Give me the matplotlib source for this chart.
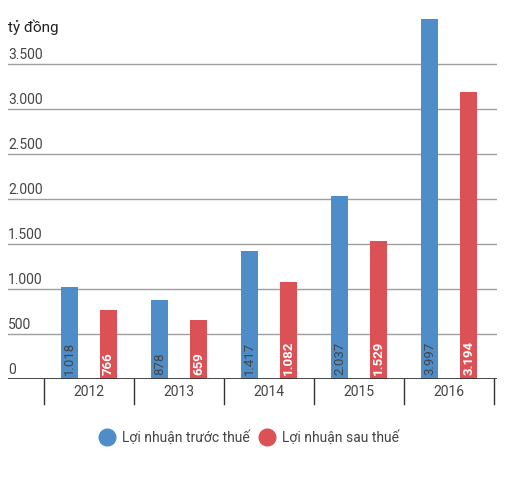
import matplotlib.pyplot as plt
from matplotlib.lines import Line2D
import numpy as np

plt.rcParams['font.family'] = ['Roboto', 'DejaVu Sans']

years = ["2012", "2013", "2014", "2015", "2016"]
truoc_thue = [1018, 878, 1417, 2037, 3997]
sau_thue = [766, 659, 1082, 1529, 3194]
yticks = [0, 500, 1000, 1500, 2000, 2500, 3000, 3500]

blue = "#4f8dc9"
red = "#dc5155"
txt = "#444444"

def fmt(v):
    return f"{v:,}".replace(",", ".")

fig = plt.figure(figsize=(5.15, 4.79), dpi=100)
ax = fig.add_axes([8/515, 100/479, 489/515, 360/479])

x = np.arange(len(years))
off = 0.217
w = 0.19
ax.bar(x - off, truoc_thue, w, color=blue, zorder=3)
ax.bar(x + off, sau_thue, w, color=red, zorder=3)

for i in range(len(years)):
    ax.text(x[i] - off, 40, fmt(truoc_thue[i]), rotation=90, ha="center", va="bottom",
            color=txt, fontsize=9.5, zorder=4)
    ax.text(x[i] + off, 40, fmt(sau_thue[i]), rotation=90, ha="center", va="bottom",
            color="white", fontsize=9.5, fontweight="bold", zorder=4)

ax.set_xlim(-0.9, 4.53)
ax.set_ylim(0, 4000)

for t in yticks[1:]:
    ax.axhline(t, color="#9e9e9e", lw=1, zorder=1)
for t in yticks:
    ax.text(0.0, t + 25, fmt(t), transform=ax.get_yaxis_transform(), ha="left", va="bottom",
            color=txt, fontsize=10)
ax.axhline(0, color="#333333", lw=2, zorder=5)

# separators between categories
for b in np.arange(-0.5, len(years), 1.0):
    ax.plot([b, b], [0, -0.07], transform=ax.get_xaxis_transform(), color="#333333",
            lw=1, clip_on=False)
for i, y in enumerate(years):
    ax.text(x[i], -0.036, y, transform=ax.get_xaxis_transform(), ha="center", va="center",
            color=txt, fontsize=10)

ax.set_xticks([])
ax.set_yticks([])
for s in ax.spines.values():
    s.set_visible(False)

fig.text(8/515, 1 - 27/479, "tỷ đồng", ha="left", va="center", fontsize=11, color="#222222")

handles = [
    Line2D([], [], marker="o", ls="", markersize=12, color=blue, label="Lợi nhuận trước thuế"),
    Line2D([], [], marker="o", ls="", markersize=12, color=red, label="Lợi nhuận sau thuế"),
]
leg = fig.legend(handles=handles, loc="center", bbox_to_anchor=(249/515, 1 - 438/479), ncol=2,
                 frameon=False, fontsize=10, handletextpad=0.5, columnspacing=0.6,
                 handlelength=1.2)
for t in leg.get_texts():
    t.set_color(txt)

fig.savefig("out.png", dpi=100)
